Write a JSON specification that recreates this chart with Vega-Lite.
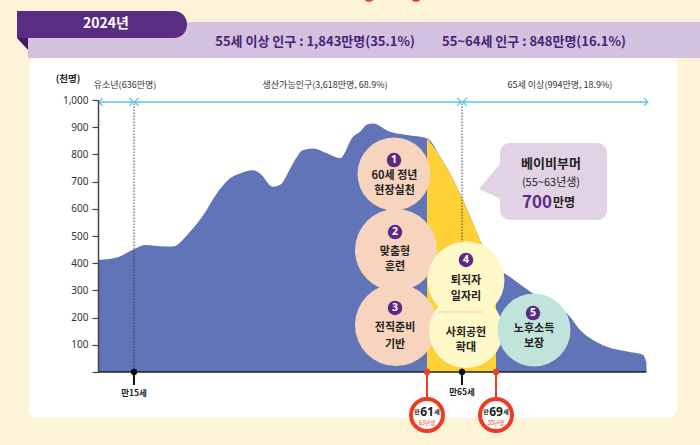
{
  "$schema": "https://vega.github.io/schema/vega-lite/v6.json",
  "width": 547,
  "height": 272,
  "autosize": {"type": "none"},
  "padding": {"left": 98, "top": 100, "right": 55, "bottom": 73},
  "background": "#FDF3D6",
  "config": {"view": {"stroke": null}, "font": "Noto Sans CJK KR"},
  "encoding": {
    "x": {"field": "age", "type": "quantitative", "axis": null,
      "scale": {"domain": [10, 15, 61, 65, 69, 100], "range": [0, 36, 329, 364, 398, 547], "nice": false, "zero": false}},
    "y": {"field": "v", "type": "quantitative",
      "scale": {"domain": [0, 1000], "nice": false, "zero": false},
      "axis": {"values": [0, 100, 200, 300, 400, 500, 600, 700, 800, 900, 1000], "format": ",.0f", "labelExpr": "datum.value == 0 ? '' : datum.label",
        "labelFont": "Noto Sans", "labelFontSize": 10, "labelColor": "#333333", "tickColor": "#444444", "tickSize": 6, "tickWidth": 1.2,
        "domainColor": "#444444", "domainWidth": 1.5, "grid": false, "title": null, "labelPadding": 4, "zindex": 1}}
  },
  "layer": [
    {"data": {"values": [{"age": 51.89, "v": 1382}, {"age": 59.27, "v": 1382}]},
     "mark": {"type": "point", "shape": "circle", "filled": true, "color": "#E8462F", "size": 144, "opacity": 1}},
    {"data": {"values": [{"age": 0.28, "age2": 112.5, "v": 1154.4, "v2": 1286.8}]},
     "mark": {"type": "rect", "color": "#D2C2DF"},
     "encoding": {"x2": {"field": "age2"}, "y2": {"field": "v2"}}},
    {"data": {"values": [{"age": -0.49, "v": 1205.9}]},
     "mark": {"type": "point", "shape": "M -0.92 -1 L 0.92 -1 L 0.92 1 Z", "filled": true, "color": "#3E1C5E", "size": 144, "opacity": 1}},
    {"data": {"values": [{"age": -1.25, "age2": 23.32, "v": 1227.9, "v2": 1327.2}]},
     "mark": {"type": "rect", "color": "#5A2D82", "cornerRadiusTopRight": 13, "cornerRadiusBottomRight": 13},
     "encoding": {"x2": {"field": "age2"}, "y2": {"field": "v2"}}},
    {"data": {"values": [{"age": 11.11, "v": 1279.4, "label": "2024년"}]},
     "mark": {"type": "text", "color": "white", "fontSize": 14, "fontWeight": "bold", "align": "center", "baseline": "middle"},
     "encoding": {"text": {"field": "label"}}},
    {"data": {"values": [{"age": 43.42, "v": 1213.2, "label": "55세 이상 인구 : 1,843만명(35.1%)"}, {"age": 76.91, "v": 1213.2, "label": "55~64세 인구 : 848만명(16.1%)"}]},
     "mark": {"type": "text", "color": "#4A2276", "fontSize": 13, "fontWeight": "bold", "align": "center", "baseline": "middle"},
     "encoding": {"text": {"field": "label"}}},
    {"data": {"values": [{"age": 0.42, "age2": 106.66, "v": -169.1, "v2": 1154.4}]},
     "mark": {"type": "rect", "color": "white", "cornerRadius": 8},
     "encoding": {"x2": {"field": "age2"}, "y2": {"field": "v2"}}},
    {"data": {"values": [{"age": 5.83, "v": 1077, "label": "(천명)"}]},
     "mark": {"type": "text", "color": "#222222", "fontSize": 9.5, "fontWeight": "bold", "align": "center", "baseline": "middle"},
     "encoding": {"text": {"field": "label"}}},
    {"data": {"values": [{"age": 13.75, "v": 1056, "label": "유소년(636만명)"}, {"age": 45.0, "v": 1056, "label": "생산가능인구(3,618만명, 68.9%)"}, {"age": 82.3, "v": 1056, "label": "65세 이상(994만명, 18.9%)"}]},
     "mark": {"type": "text", "color": "#333333", "fontSize": 9, "align": "center", "baseline": "middle"},
     "encoding": {"text": {"field": "label"}}},
    {"data": {"name": "pop", "values": [
      {"age": 10, "v": 412}, {"age": 12.64, "v": 421}, {"age": 15, "v": 451}, {"age": 16.73, "v": 467}, {"age": 19.08, "v": 462},
      {"age": 21.12, "v": 461}, {"age": 23.32, "v": 503}, {"age": 25.83, "v": 575}, {"age": 28.03, "v": 657}, {"age": 30.07, "v": 712},
      {"age": 31.64, "v": 730}, {"age": 33.68, "v": 742}, {"age": 34.78, "v": 730}, {"age": 36.82, "v": 681}, {"age": 37.92, "v": 688},
      {"age": 39.96, "v": 767}, {"age": 41.53, "v": 816}, {"age": 43.1, "v": 822}, {"age": 45.3, "v": 804}, {"age": 47.34, "v": 786},
      {"age": 49.38, "v": 865}, {"age": 50.48, "v": 883}, {"age": 51.58, "v": 910}, {"age": 52.52, "v": 914}, {"age": 55.19, "v": 883},
      {"age": 57.86, "v": 871}, {"age": 61, "v": 859}, {"age": 62.49, "v": 792}, {"age": 63.63, "v": 730}, {"age": 65.12, "v": 632},
      {"age": 66.29, "v": 547}, {"age": 67.47, "v": 461}, {"age": 69, "v": 381}, {"age": 71.29, "v": 357}, {"age": 74.62, "v": 314},
      {"age": 79.2, "v": 258}, {"age": 84.4, "v": 203}, {"age": 86.48, "v": 154}, {"age": 89.18, "v": 118}, {"age": 92.1, "v": 93},
      {"age": 96.26, "v": 75}, {"age": 99.59, "v": 63}, {"age": 100.3, "v": 35}]},
     "mark": {"type": "area", "color": "#6074B7", "interpolate": "monotone"}},
    {"data": {"name": "pop"},
     "transform": [{"filter": "datum.age >= 61 && datum.age <= 69"}],
     "mark": {"type": "area", "color": "#FED236", "interpolate": "monotone"}},
    {"data": {"values": [{"age": 15, "v": 0, "v2": 993}, {"age": 65, "v": 0, "v2": 993}]},
     "mark": {"type": "rule", "color": "#333333", "strokeWidth": 0.9, "strokeDash": [1.5, 1.5]},
     "encoding": {"y2": {"field": "v2"}}},
    {"data": {"values": [{"age": 10, "age2": 100.6, "v": 993}]},
     "mark": {"type": "rule", "color": "#5DC1EA", "strokeWidth": 1.5},
     "encoding": {"x2": {"field": "age2"}}},
    {"data": {"values": [{"age": 10.1, "v": 993}, {"age": 15.1, "v": 993}, {"age": 65.1, "v": 993}]},
     "mark": {"type": "point", "shape": "M 1 -1 L 0 0 L 1 1", "filled": false, "color": "#5DC1EA", "strokeWidth": 1.3, "size": 64, "opacity": 1}},
    {"data": {"values": [{"age": 14.9, "v": 993}, {"age": 64.9, "v": 993}, {"age": 100.6, "v": 993}]},
     "mark": {"type": "point", "shape": "M -1 -1 L 0 0 L -1 1", "filled": false, "color": "#5DC1EA", "strokeWidth": 1.3, "size": 64, "opacity": 1}},
    {"data": {"values": [{"age": 69.83, "age2": 92.1, "v": 558.8, "v2": 841.9}]},
     "mark": {"type": "rect", "color": "#E2D2E6", "cornerRadius": 10},
     "encoding": {"x2": {"field": "age2"}, "y2": {"field": "v2"}}},
    {"data": {"values": [{"age": 69.83, "v": 705.9}]},
     "mark": {"type": "point", "shape": "M -1.05 0.45 L 0.15 -1 L 0.15 1 Z", "filled": true, "color": "#E2D2E6", "size": 1600, "opacity": 1}},
    {"data": {"values": [{"age": 80.44, "v": 764.7, "label": "베이비부머"}]},
     "mark": {"type": "text", "color": "#231F20", "fontSize": 13, "fontWeight": "bold", "align": "center", "baseline": "middle"},
     "encoding": {"text": {"field": "label"}}},
    {"data": {"values": [{"age": 80.44, "v": 694.9, "label": "(55~63년생)"}]},
     "mark": {"type": "text", "color": "#231F20", "fontSize": 11, "align": "center", "baseline": "middle"},
     "encoding": {"text": {"field": "label"}}},
    {"data": {"values": [{"age": 80.65, "v": 621.3, "label": "700"}]},
     "mark": {"type": "text", "color": "#5C2A85", "fontSize": 17, "fontWeight": "bold", "align": "right", "baseline": "middle"},
     "encoding": {"text": {"field": "label"}}},
    {"data": {"values": [{"age": 80.65, "v": 621.3, "label": "만명"}]},
     "mark": {"type": "text", "color": "#231F20", "fontSize": 12, "fontWeight": "bold", "align": "left", "baseline": "middle", "dx": 1},
     "encoding": {"text": {"field": "label"}}},
    {"data": {"values": [{"age": 55.82, "v": 727.9}]},
     "mark": {"type": "point", "shape": "circle", "filled": true, "color": "#F6D4BD", "size": 5329, "opacity": 1}},
    {"data": {"values": [{"age": 56.13, "v": 448.5}, {"age": 56.13, "v": 172.8}]},
     "mark": {"type": "point", "shape": "circle", "filled": true, "color": "#F6D4BD", "size": 6724, "opacity": 1}},
    {"data": {"values": [{"age": 65.47, "v": 338.2}]},
     "mark": {"type": "point", "shape": "circle", "filled": true, "color": "#FFF8C9", "size": 5929, "opacity": 1}},
    {"data": {"values": [{"age": 65.47, "v": 150.7}]},
     "mark": {"type": "point", "shape": "circle", "filled": true, "color": "#FFF8C9", "size": 5476, "opacity": 1}},
    {"data": {"values": [{"age": 76.91, "v": 154.4}]},
     "mark": {"type": "point", "shape": "circle", "filled": true, "color": "#C0E4DC", "size": 5329, "opacity": 1}},
    {"data": {"values": [{"age": 62.26, "age2": 67.47, "v": 220.6}]},
     "mark": {"type": "rule", "color": "#E4D7A2", "strokeWidth": 1},
     "encoding": {"x2": {"field": "age2"}}},
    {"data": {"values": [{"age": 55.82, "v": 779.4, "label": "1"}, {"age": 55.98, "v": 514.7, "label": "2"}, {"age": 55.98, "v": 235.3, "label": "3"}, {"age": 65.47, "v": 411.8, "label": "4"}, {"age": 76.7, "v": 216.9, "label": "5"}]},
     "mark": {"type": "point", "shape": "circle", "filled": true, "color": "#5C2A85", "size": 210, "opacity": 1}},
    {"data": {"values": [{"age": 55.82, "v": 779.4, "label": "1"}, {"age": 55.98, "v": 514.7, "label": "2"}, {"age": 55.98, "v": 235.3, "label": "3"}, {"age": 65.47, "v": 411.8, "label": "4"}, {"age": 76.7, "v": 216.9, "label": "5"}]},
     "mark": {"type": "text", "color": "white", "fontSize": 10.5, "fontWeight": "bold", "align": "center", "baseline": "middle", "font": "Noto Sans"},
     "encoding": {"text": {"field": "label"}}},
    {"data": {"values": [
      {"age": 55.9, "v": 720.6, "label": "60세 정년"}, {"age": 55.9, "v": 665.4, "label": "현장실천"},
      {"age": 55.98, "v": 441.2, "label": "맞춤형"}, {"age": 55.98, "v": 386.0, "label": "훈련"},
      {"age": 55.98, "v": 161.8, "label": "전직준비"}, {"age": 55.98, "v": 99.3, "label": "기반"},
      {"age": 65.47, "v": 334.6, "label": "퇴직자"}, {"age": 65.47, "v": 275.7, "label": "일자리"},
      {"age": 65.47, "v": 143.4, "label": "사회공헌"}, {"age": 65.47, "v": 88.2, "label": "확대"},
      {"age": 76.91, "v": 158.1, "label": "노후소득"}, {"age": 76.91, "v": 102.9, "label": "보장"}]},
     "mark": {"type": "text", "color": "#231F20", "fontSize": 11, "fontWeight": "bold", "align": "center", "baseline": "middle"},
     "encoding": {"text": {"field": "label"}}},
    {"data": {"values": [{"age": 10, "age2": 100.3, "v": 0}]},
     "mark": {"type": "rule", "color": "#222222", "strokeWidth": 1.6},
     "encoding": {"x2": {"field": "age2"}}},
    {"data": {"values": [{"age": 15, "v": 0, "v2": -48}, {"age": 65, "v": 0, "v2": -48}]},
     "mark": {"type": "rule", "color": "#111111", "strokeWidth": 2},
     "encoding": {"y2": {"field": "v2"}}},
    {"data": {"values": [{"age": 15, "v": 0}, {"age": 65, "v": 0}]},
     "mark": {"type": "point", "shape": "circle", "filled": true, "color": "#111111", "size": 40, "opacity": 1}},
    {"data": {"values": [{"age": 15, "v": -77, "label": "만15세"}, {"age": 65, "v": -74, "label": "만65세"}]},
     "mark": {"type": "text", "color": "#222222", "fontSize": 8.5, "fontWeight": "bold", "align": "center", "baseline": "middle"},
     "encoding": {"text": {"field": "label"}}},
    {"data": {"values": [{"age": 61, "v": 0, "v2": -150}, {"age": 69, "v": 0, "v2": -150}]},
     "mark": {"type": "rule", "color": "#EE3B24", "strokeWidth": 2},
     "encoding": {"y2": {"field": "v2"}}},
    {"data": {"values": [{"age": 61, "v": 0}, {"age": 69, "v": 0}]},
     "mark": {"type": "point", "shape": "circle", "filled": true, "color": "#EE3B24", "size": 40, "opacity": 1}},
    {"data": {"values": [{"age": 61, "v": -158}, {"age": 69, "v": -158}]},
     "mark": {"type": "point", "shape": "circle", "filled": true, "fill": "white", "stroke": "#EE3B24", "strokeWidth": 4, "size": 1024, "opacity": 1}},
    {"data": {"values": [{"age": 61, "v": -147, "label": "61"}, {"age": 69, "v": -147, "label": "69"}]},
     "mark": {"type": "text", "color": "#222222", "fontSize": 12, "fontWeight": "bold", "align": "center", "baseline": "middle", "font": "Noto Sans"},
     "encoding": {"text": {"field": "label"}}},
    {"data": {"values": [{"age": 61, "v": -147, "label": "만"}, {"age": 69, "v": -147, "label": "만"}]},
     "mark": {"type": "text", "color": "#222222", "fontSize": 6, "fontWeight": "bold", "align": "center", "baseline": "middle", "dx": -10},
     "encoding": {"text": {"field": "label"}}},
    {"data": {"values": [{"age": 61, "v": -147, "label": "세"}, {"age": 69, "v": -147, "label": "세"}]},
     "mark": {"type": "text", "color": "#222222", "fontSize": 6, "fontWeight": "bold", "align": "center", "baseline": "middle", "dx": 10},
     "encoding": {"text": {"field": "label"}}},
    {"data": {"values": [{"age": 61, "v": -186, "label": "63년생"}, {"age": 69, "v": -186, "label": "55년생"}]},
     "mark": {"type": "text", "color": "#EE3B24", "fontSize": 5.5, "align": "center", "baseline": "middle"},
     "encoding": {"text": {"field": "label"}}}
  ]
}
